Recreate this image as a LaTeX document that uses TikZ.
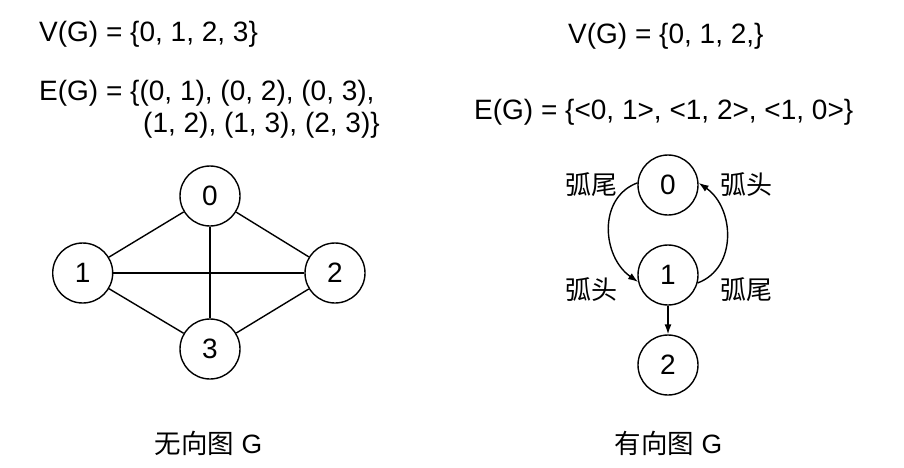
\documentclass[tikz,border=0pt]{standalone}
\usepackage{fontspec}
\setmainfont{Liberation Sans}
\newfontfamily\cjk{Noto Sans CJK SC}
\usetikzlibrary{arrows.meta}
\tikzset{
  vert/.style={circle,draw=black,line width=1.4pt,minimum size=60pt,inner sep=0pt,font=\fontsize{28}{32}\selectfont},
  edge/.style={draw=black,line width=1.4pt},
  arr/.style={draw=black,line width=1.4pt,-{Latex[length=10pt,width=7pt]}},
  formula/.style={inner sep=0pt,font=\fontsize{28}{32}\selectfont},
  lbl/.style={inner sep=0pt,font=\fontsize{26}{30}\selectfont\cjk},
  caption/.style={inner sep=0pt,font=\fontsize{26.5}{30}\selectfont}
}
\begin{document}
\begin{tikzpicture}[x=1pt,y=-1pt]
\useasboundingbox[fill=white] (0,0) rectangle (904,467);
% left formulas
\node[formula,anchor=base west] (lv) at (39,41.5) {V(G) = \{0, 1, 2, 3\}};
\node[formula,anchor=base west] (le1) at (39,100) {E(G) = \{(0, 1), (0, 2), (0, 3),};
\node[formula,anchor=base west] (le2) at (143,132) {(1, 2), (1, 3), (2, 3)\}};
% right formulas
\node[formula,anchor=base west] (rv) at (568,43) {V(G) = \{0, 1, 2,\}};
\node[formula,anchor=base west] (re) at (474,119) {E(G) = \{<0, 1>, <1, 2>, <1, 0>\}};
% undirected graph
\node[vert] (l0) at (210,196) {0};
\node[vert] (l1) at (82.7,273) {1};
\node[vert] (l2) at (335,273) {2};
\node[vert] (l3) at (210,349) {3};
\draw[edge] (l0) -- (l1);
\draw[edge] (l0) -- (l2);
\draw[edge] (l0) -- (l3);
\draw[edge] (l1) -- (l2);
\draw[edge] (l1) -- (l3);
\draw[edge] (l2) -- (l3);
% directed graph
\node[vert] (r0) at (668,185) {0};
\node[vert] (r1) at (668,275) {1};
\node[vert] (r2) at (668,365) {2};
\draw[arr] (r0.176) .. controls +(-40,15) and +(-36,-25) .. (r1.193);
\draw[arr] (r1.345) .. controls +(40,-15) and +(36,25) .. (r0.4);
\draw[arr] (r1) -- (r2);
\node[lbl] (t1) at (591,185) {弧尾};
\node[lbl] (h1) at (746,185) {弧头};
\node[lbl] (h2) at (591,290) {弧头};
\node[lbl] (t2) at (746,290) {弧尾};
% captions
\node[caption] (c1) at (208.5,443) {{\cjk 无向图} G};
\node[caption] (c2) at (668.5,443) {{\cjk 有向图} G};
\end{tikzpicture}
\end{document}
